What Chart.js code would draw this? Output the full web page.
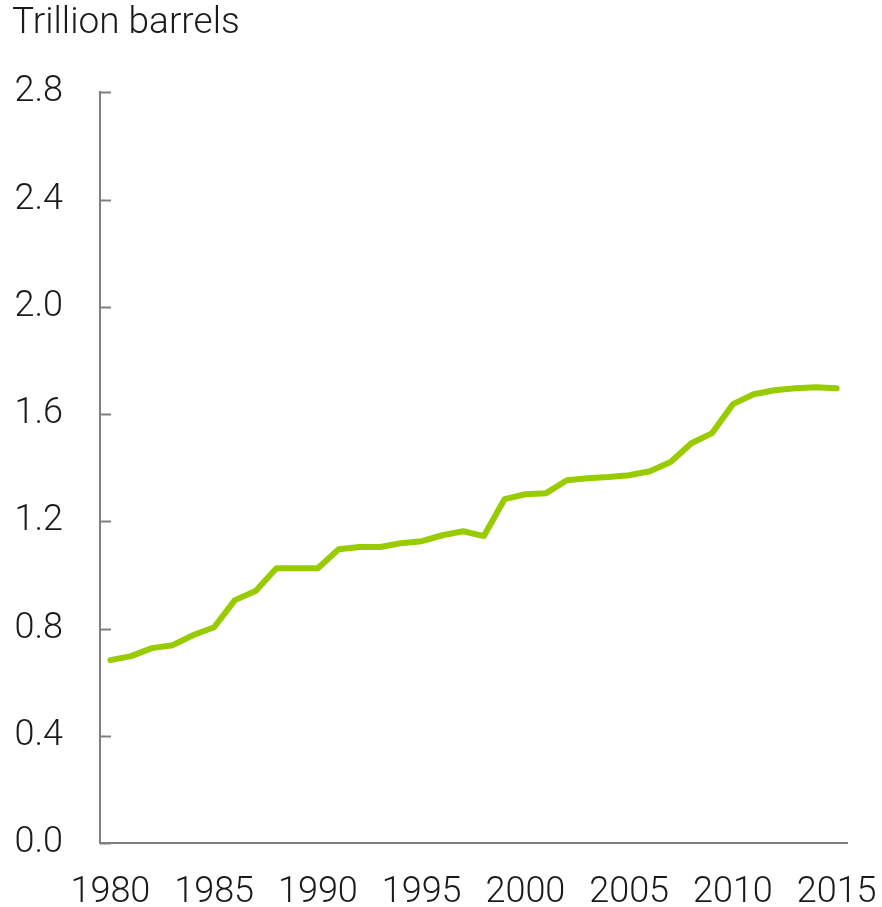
<!DOCTYPE html>
<html>
<head>
<meta charset="utf-8">
<script src="https://cdn.jsdelivr.net/npm/chart.js@4.4.0/dist/chart.umd.min.js"></script>
<style>
  html, body { margin: 0; padding: 0; background: #fff; }
  #wrap { width: 882px; height: 907px; }
</style>
</head>
<body>
<div id="wrap"><canvas id="grafico" width="882" height="907"></canvas></div>
<script>
// dados do gráfico
const anos = [];
for (let a = 1980; a <= 2015; a++) anos.push(String(a));

const reservas = [
  0.682, 0.697, 0.727, 0.738, 0.776, 0.805, 0.906, 0.940, 1.025, 1.025,
  1.025, 1.096, 1.104, 1.104, 1.118, 1.126, 1.148, 1.163, 1.145, 1.283,
  1.301, 1.305, 1.353, 1.361, 1.365, 1.372, 1.387, 1.421, 1.491, 1.529,
  1.637, 1.674, 1.689, 1.696, 1.700, 1.696
];

const rotulosX = ['1980', '1985', '1990', '1995', '2000', '2005', '2010', '2015'];
const titulo = 'Trillion barrels';

const familia = "Roboto, 'Liberation Sans', sans-serif";
const fonte = { family: familia, size: 36, weight: '300' };
const corTexto = '#1a1a1a';
const corEixo = '#808080';

// marcas curtas do eixo y, apontando para dentro
const marcasY = {
  id: 'marcasY',
  afterDraw(chart) {
    const y = chart.scales.y;
    const ctx = chart.ctx;
    ctx.save();
    ctx.strokeStyle = corEixo;
    ctx.lineWidth = 2;
    y.ticks.forEach(t => {
      const py = Math.round(y.getPixelForValue(t.value)) + 0.5;
      ctx.beginPath();
      ctx.moveTo(y.right, py);
      ctx.lineTo(y.right + 11, py);
      ctx.stroke();
    });
    ctx.restore();
  }
};

const ctx = document.getElementById('grafico').getContext('2d');
new Chart(ctx, {
  type: 'line',
  data: {
    labels: anos,
    datasets: [{
      data: reservas,
      borderColor: '#99cc00',
      borderWidth: 6,
      borderCapStyle: 'round',
      borderJoinStyle: 'round',
      pointRadius: 0,
      tension: 0,
      fill: false
    }]
  },
  options: {
    responsive: false,
    animation: false,
    layout: { padding: { left: 12, right: 35, top: 0, bottom: 0 } },
    plugins: {
      legend: { display: false },
      tooltip: { enabled: false },
      title: {
        display: true,
        text: titulo,
        align: 'start',
        color: corTexto,
        font: { family: familia, size: 37, weight: '300' },
        padding: { top: 2, bottom: 46 }
      }
    },
    scales: {
      x: {
        offset: true,
        grid: { display: false, drawTicks: false },
        border: { display: true, color: corEixo, width: 2 },
        ticks: {
          autoSkip: false,
          maxRotation: 0,
          color: corTexto,
          font: fonte,
          padding: 28,
          callback: function (v, i) {
            const r = this.getLabelForValue(v);
            return rotulosX.includes(r) ? r : null;
          }
        },
        afterFit: s => { s.height = 64; s.paddingLeft = 0; s.paddingRight = 0; }
      },
      y: {
        min: 0,
        max: 2.8,
        grid: { display: false, drawTicks: false },
        border: { display: true, color: corEixo, width: 2 },
        ticks: {
          stepSize: 0.4,
          color: corTexto,
          font: fonte,
          padding: 37,
          callback: v => v.toFixed(1)
        },
        afterFit: s => { s.width = 88; s.paddingTop = 0; s.paddingBottom = 0; }
      }
    }
  },
  plugins: [marcasY]
});
</script>
</body>
</html>
